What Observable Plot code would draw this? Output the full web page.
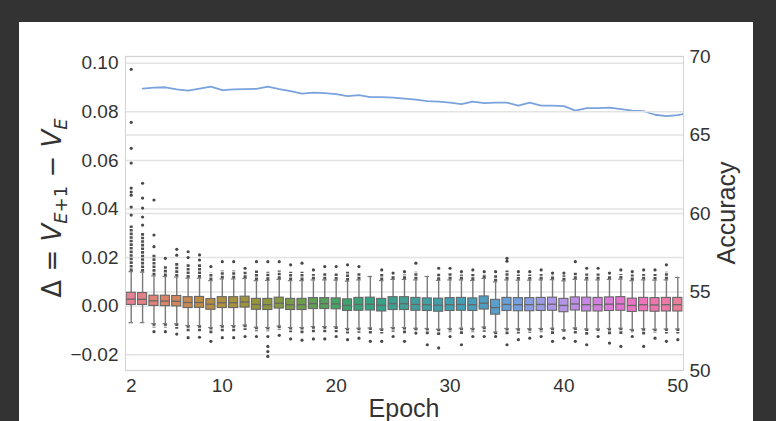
<!DOCTYPE html>
<html><head><meta charset="utf-8">
<script src="https://cdn.jsdelivr.net/npm/d3@7"></script>
<script src="https://cdn.jsdelivr.net/npm/@observablehq/plot@0.6"></script>
<style>
html,body{margin:0;padding:0;background:#333;width:776px;height:421px;overflow:hidden;}
#panel{position:absolute;left:19px;top:22px;width:734px;height:399px;background:#fff;}
#panel svg{position:absolute;left:0;top:0;}
</style></head><body><div id="panel"></div>
<script>
// ---- data ----
const epochs = [2,3,4,5,6,7,8,9,10,11,12,13,14,15,16,17,18,19,20,21,22,23,24,25,26,27,28,29,30,31,32,33,34,35,36,37,38,39,40,41,42,43,44,45,46,47,48,49,50];
const q1 = [.0005,.0005,.0001,.0000,-.0001,-.0008,-.0007,-.0015,-.0008,-.0008,-.0006,-.0015,-.0016,-.0010,-.0016,-.0016,-.0012,-.0012,-.0013,-.0020,-.0019,-.0018,-.0022,-.0016,-.0016,-.0019,-.0020,-.0023,-.0020,-.0019,-.0020,-.0014,-.0035,-.0020,-.0021,-.0021,-.0020,-.0019,-.0025,-.0018,-.0022,-.0022,-.0020,-.0019,-.0024,-.0021,-.0023,-.0022,-.0022];
const med = [.0029,.0028,.0022,.0021,.0020,.0015,.0015,.0008,.0014,.0014,.0017,.0007,.0006,.0012,.0006,.0006,.0010,.0010,.0009,.0003,.0007,.0008,.0004,.0010,.0010,.0007,.0006,.0004,.0006,.0007,.0006,.0012,-.0006,.0007,.0006,.0006,.0007,.0008,.0003,.0009,.0006,.0006,.0008,.0009,.0003,.0006,.0005,.0006,.0006];
const q3 = [.0055,.0054,.0043,.0043,.0042,.0037,.0038,.0029,.0037,.0037,.0039,.0030,.0030,.0035,.0030,.0030,.0033,.0033,.0032,.0028,.0034,.0035,.0030,.0037,.0037,.0034,.0032,.0031,.0033,.0034,.0032,.0040,.0026,.0034,.0033,.0033,.0034,.0035,.0030,.0036,.0035,.0034,.0036,.0037,.0031,.0034,.0033,.0034,.0034];
const whiskerHi = [.0142,.0140,.0125,.0122,.0120,.0115,.0115,.0105,.0112,.0112,.0114,.0105,.0106,.0110,.0105,.0105,.0108,.0108,.0107,.0103,.0108,.0122,.0105,.0110,.0110,.0108,.0122,.0106,.0108,.0108,.0106,.0114,.0100,.0108,.0107,.0107,.0108,.0109,.0104,.0110,.0108,.0108,.0110,.0111,.0105,.0108,.0107,.0108,.0118];
const denseHi = [.0330,.0300,.0210,.0165,.0180,.0170,.0170,.0135,.0145,.0145,.0140,.0145,.0140,.0145,.0140,.0140,.0130,.0135,.0135,.0140,.0135,.0122,.0130,.0125,.0128,.0140,.0122,.0135,.0135,.0128,.0130,.0130,.0125,.0145,.0128,.0128,.0130,.0125,.0125,.0140,.0132,.0132,.0125,.0130,.0128,.0130,.0130,.0140,.0118];
const topOutlier = [.0375,.0334,.0245,.0197,.0234,.0224,.0211,.0163,.0183,.0183,.0156,.0183,.0183,.0183,.0170,.0177,.0149,.0163,.0163,.0170,.0163,null,.0149,.0136,.0142,.0177,null,.0156,.0156,.0142,.0149,.0142,.0142,.0197,.0142,.0142,.0149,.0136,.0136,.0183,.0156,.0156,.0136,.0149,.0142,.0149,.0149,.0170,null];
const whiskerLo = [-.0068,-.0068,-.0072,-.0072,-.0073,-.0080,-.0080,-.0088,-.0080,-.0080,-.0078,-.0087,-.0088,-.0082,-.0088,-.0088,-.0084,-.0084,-.0085,-.0092,-.0091,-.0090,-.0094,-.0088,-.0088,-.0091,-.0092,-.0095,-.0092,-.0091,-.0092,-.0086,-.0107,-.0092,-.0093,-.0093,-.0092,-.0091,-.0097,-.0090,-.0094,-.0094,-.0092,-.0091,-.0096,-.0093,-.0095,-.0094,-.0094];
const denseLo = [-.0068,-.0068,-.0090,-.0090,-.0095,-.0105,-.0105,-.0115,-.0105,-.0105,-.0100,-.0105,-.0105,-.0100,-.0110,-.0115,-.0110,-.0110,-.0110,-.0115,-.0112,-.0115,-.0115,-.0108,-.0115,-.0105,-.0120,-.0125,-.0110,-.0118,-.0110,-.0108,-.0120,-.0118,-.0115,-.0112,-.0110,-.0118,-.0112,-.0115,-.0120,-.0110,-.0118,-.0120,-.0112,-.0120,-.0112,-.0115,-.0115];
const bottomOutlier = [null,null,-.0105,-.0105,-.0115,-.0130,-.0128,-.0145,-.0130,-.0130,-.0125,-.0125,-.0125,-.0120,-.0135,-.0140,-.0135,-.0135,-.0125,-.0138,-.0132,-.0145,-.0145,-.0125,-.0145,-.0111,-.0159,-.0172,-.0125,-.0159,-.0125,-.0125,-.0125,-.0159,-.0138,-.0132,-.0125,-.0145,-.0132,-.0145,-.0159,-.0125,-.0152,-.0166,-.0125,-.0166,-.0132,-.0145,-.0138];
const extraOutlierEpoch = [2,2,2,2,2,2,2,2,3,3,3,3,4,4,6,7,8,35,14,14,14];
const extraOutlierValue = [.0408,.0457,.0470,.0486,.0589,.0650,.0757,.0975,.0367,.0404,.0445,.0506,.0293,.0437,.0210,.0200,.0190,.0185,-.0166,-.0187,-.0207];
// accuracy for epochs 2..50 (drawn one category to the right, as in the original twin axis)
const accuracy = [67.96,68.02,68.04,67.90,67.83,67.96,68.08,67.86,67.90,67.92,67.94,68.08,67.92,67.80,67.64,67.70,67.67,67.60,67.48,67.54,67.41,67.41,67.38,67.32,67.25,67.16,67.12,67.06,66.97,67.12,67.03,67.06,67.06,66.87,67.06,66.87,66.87,66.84,66.55,66.71,66.71,66.74,66.65,66.55,66.52,66.29,66.20,66.26,66.42];
const xTicks = [2,10,20,30,40,50];
const yTicks = [-0.02,0,0.02,0.04,0.06,0.08,0.10];
const accTicks = [50,55,60,65,70];

// ---- styles ----
const palette = ["#e68294","#bb8c46","#8c963f","#42a169","#459e98","#4c9ebd","#ab99e7","#e374d1","#e68294"];
const paletteStops = [2,8.1,14.3,20.4,26.5,32.6,38.8,44.9,51];
const W = 734, H = 399, mT = 34, mR = 70, mB = 51, mL = 106;
const xDomain = [1.5, 50.5];
const font = "'Liberation Sans', Arial, Helvetica, sans-serif";
const gridColor = "#e3e3e3";
const lineGray = "#666";

const rows = epochs.map((e, i) => ({epoch: e, q1: q1[i], med: med[i], q3: q3[i], wHi: whiskerHi[i], dHi: denseHi[i], wLo: whiskerLo[i], dLo: denseLo[i]}));
const outliers = [];
epochs.forEach((e, i) => {
  if (topOutlier[i] != null) outliers.push({epoch: e, v: topOutlier[i]});
  if (bottomOutlier[i] != null) outliers.push({epoch: e, v: bottomOutlier[i]});
});
extraOutlierEpoch.forEach((e, i) => outliers.push({epoch: e, v: extraOutlierValue[i]}));
const accRows = epochs.map((e, i) => ({x: e + 1, acc: accuracy[i]}));

const common = {width: W, height: H, marginTop: mT, marginRight: mR, marginBottom: mB, marginLeft: mL};

// right axis (accuracy) underneath
const p2 = Plot.plot({
  ...common,
  style: {background: "white", fontFamily: font, fontSize: "19px", color: "#333", overflow: "visible"},
  x: {domain: xDomain, axis: null},
  y: {domain: [50, 70]},
  marks: [
    Plot.gridY(accTicks, {stroke: gridColor, strokeOpacity: 1, strokeWidth: 1.5}),
    Plot.axisY(accTicks, {anchor: "right", tickSize: 0, tickPadding: 6, label: null, fontSize: 19, fill: "#333"}),
    Plot.line(accRows, {x: "x", y: "acc", stroke: "#7aa2dc", strokeWidth: 1.8, clip: true})
  ]
});

const p1 = Plot.plot({
  ...common,
  style: {background: "transparent", fontFamily: font, fontSize: "19px", color: "#333", overflow: "visible"},
  x: {domain: xDomain},
  y: {domain: [-0.0265, 0.1028]},
  color: {type: "linear", domain: paletteStops, range: palette, interpolate: "hcl"},
  marks: [
    Plot.gridY(yTicks, {stroke: gridColor, strokeOpacity: 1, strokeWidth: 1.5}),
    Plot.axisY(yTicks, {anchor: "left", tickSize: 0, tickPadding: 7, tickFormat: d3.format(".2f"), label: null, fontSize: 19, fill: "#333"}),
    Plot.axisX(xTicks, {anchor: "bottom", tickSize: 0, tickPadding: 8, label: null, fontSize: 19, fill: "#333"}),
    Plot.ruleX(rows, {x: "epoch", y1: "wLo", y2: "wHi", stroke: "#7a7a7a", strokeWidth: 1.4}),
    Plot.ruleX(rows, {x: "epoch", y1: "wHi", y2: "dHi", stroke: "#505050", strokeWidth: 3, strokeDasharray: "2.6,1"}),
    Plot.ruleX(rows, {x: "epoch", y1: "wLo", y2: "dLo", stroke: "#505050", strokeWidth: 3, strokeDasharray: "2.6,1"}),
    Plot.ruleY(rows, {y: "wHi", x1: d => d.epoch - 0.2, x2: d => d.epoch + 0.2, stroke: "#7a7a7a", strokeWidth: 1.2}),
    Plot.ruleY(rows, {y: "wLo", x1: d => d.epoch - 0.2, x2: d => d.epoch + 0.2, stroke: "#7a7a7a", strokeWidth: 1.2}),
    Plot.rect(rows, {x1: d => d.epoch - 0.4, x2: d => d.epoch + 0.4, y1: "q1", y2: "q3", fill: "epoch", stroke: lineGray, strokeWidth: 1.1}),
    Plot.ruleY(rows, {y: "med", x1: d => d.epoch - 0.4, x2: d => d.epoch + 0.4, stroke: lineGray, strokeWidth: 1.3}),
    Plot.dot(outliers, {x: "epoch", y: "v", r: 1.6, fill: "#484848", stroke: null}),
    Plot.frame({stroke: "#d4d4d4", strokeWidth: 1})
  ]
});

const panel = document.getElementById("panel");
panel.appendChild(p2);
panel.appendChild(p1);

// axis titles
const svg = d3.select(p1);
svg.append("text")
  .attr("x", mL + (W - mL - mR) / 2).attr("y", 395)
  .attr("text-anchor", "middle").attr("font-size", 25).attr("fill", "#333")
  .attr("font-family", font).text("Epoch");
svg.append("text")
  .attr("transform", `translate(716,191) rotate(-90)`)
  .attr("text-anchor", "middle").attr("font-size", 25).attr("fill", "#333")
  .attr("font-family", font).text("Accuracy");
const dl = svg.append("text")
  .attr("transform", `translate(42,186) rotate(-90)`)
  .attr("text-anchor", "middle").attr("font-size", 26).attr("fill", "#333")
  .attr("font-family", "'DejaVu Sans', sans-serif");
dl.append("tspan").text("Δ = ");
dl.append("tspan").attr("font-style", "italic").text("V");
dl.append("tspan").attr("font-size", 18).attr("dy", 6).attr("font-style", "italic").text("E");
dl.append("tspan").attr("font-size", 18).text("+1");
dl.append("tspan").attr("dy", -6).text(" − ");
dl.append("tspan").attr("font-style", "italic").text("V");
dl.append("tspan").attr("font-size", 18).attr("dy", 6).attr("font-style", "italic").text("E");
</script>
</body></html>
